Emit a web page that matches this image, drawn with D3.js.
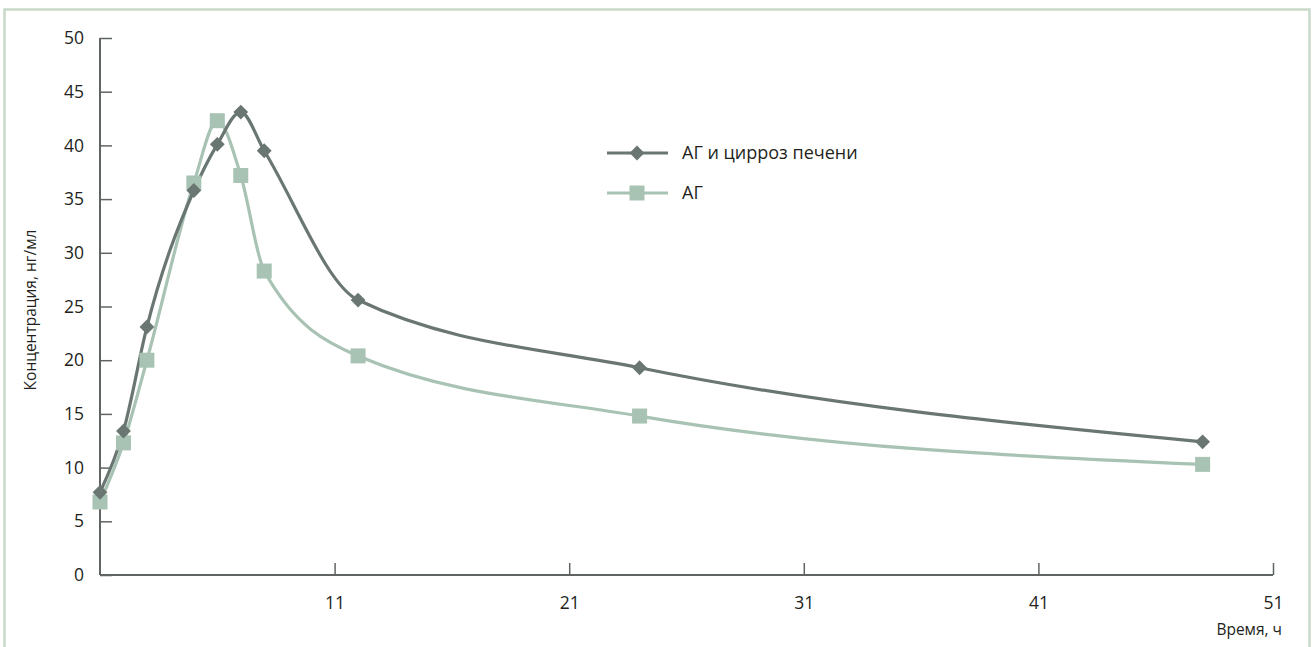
<!DOCTYPE html>
<html><head><meta charset="utf-8">
<script src="https://cdn.jsdelivr.net/npm/d3@7/dist/d3.min.js"></script>
<style>body{margin:0;background:#fff}svg{display:block}text{font-family:"Open Sans","Noto Sans",sans-serif;fill:#231f20}</style>
</head><body><svg id="c" width="1314" height="647"></svg>
<script>
const times = [1, 2, 3, 5, 6, 7, 8, 12, 24, 48];
const cirrhosis = [7.7, 13.4, 23.1, 35.8, 40.1, 43.1, 39.5, 25.6, 19.3, 12.4];
const ag = [6.8, 12.3, 20.0, 36.5, 42.3, 37.2, 28.3, 20.4, 14.8, 10.3];
const xTicks = [11, 21, 31, 41, 51];
const yTicks = [0, 5, 10, 15, 20, 25, 30, 35, 40, 45, 50];
const seriesNames = ["АГ и цирроз печени", "АГ"];
const yTitle = "Концентрация, нг/мл";
const xTitle = "Время, ч";

const svg = d3.select("#c");
svg.append("rect").attr("x",4.5).attr("y",9.5).attr("width",1305).attr("height",660)
  .attr("fill","none").attr("stroke","#c9d9c9").attr("stroke-width",2.5);

const x = d3.scaleLinear().domain([1,51]).range([100,1273]);
const y = d3.scaleLinear().domain([0,50]).range([575,38]);
const axisCol = "#5f6462";

const gx = svg.append("g").attr("transform","translate(0,575)")
  .call(d3.axisBottom(x).tickValues(xTicks).tickSize(-12).tickPadding(22).tickFormat(d3.format("d")));
const gy = svg.append("g").attr("transform","translate(100,0)")
  .call(d3.axisLeft(y).tickValues(yTicks).tickSize(-12).tickPadding(16));
[gx,gy].forEach(g=>{
  g.select(".domain").attr("stroke",axisCol).attr("stroke-width",2);
  g.selectAll(".tick line").attr("stroke",axisCol).attr("stroke-width",1.5);
  g.selectAll(".tick text").attr("font-size",17.5).attr("fill","#231f20").attr("font-family","'Open Sans',sans-serif");
});
gx.select(".domain").attr("d","M100,0H1273");
gy.select(".domain").attr("d","M0,575V38");

svg.append("text").attr("transform","translate(36,310) rotate(-90)").attr("text-anchor","middle")
  .attr("font-size",15.5).text(yTitle);
svg.append("text").attr("x",1282).attr("y",635).attr("text-anchor","end").attr("font-size",15.5).text(xTitle);

const dark = "#6a7671", light = "#a8c3b3";
const line = d3.line().x(d=>x(d[0])).y(d=>y(d[1])).curve(d3.curveMonotoneX);
const dAg = times.map((t,i)=>[t,ag[i]]);
const dCi = times.map((t,i)=>[t,cirrhosis[i]]);

svg.append("path").datum(dAg).attr("d",line).attr("fill","none").attr("stroke",light).attr("stroke-width",3.2);
svg.append("path").datum(dCi).attr("d",line).attr("fill","none").attr("stroke",dark).attr("stroke-width",3.2);

function sq(g, cx, cy){ g.append("rect").attr("x",cx-7.5).attr("y",cy-7.5).attr("width",15).attr("height",15).attr("fill",light); }
function dm(g, cx, cy){ g.append("path").attr("d",d3.symbol().type(d3.symbolSquare).size(110)()).attr("transform",`translate(${cx},${cy}) rotate(45)`).attr("fill",dark); }

const gm = svg.append("g");
dAg.forEach(d=>sq(gm, x(d[0]), y(d[1])));
dCi.forEach(d=>dm(gm, x(d[0]), y(d[1])));

// legend
const lg = svg.append("g");
lg.append("line").attr("x1",607).attr("x2",668).attr("y1",153).attr("y2",153).attr("stroke",dark).attr("stroke-width",3);
dm(lg,637,153);
lg.append("text").attr("x",682).attr("y",159).attr("font-size",18).text(seriesNames[0]);
lg.append("line").attr("x1",607).attr("x2",668).attr("y1",193).attr("y2",193).attr("stroke",light).attr("stroke-width",3);
sq(lg,637,193);
lg.append("text").attr("x",682).attr("y",199).attr("font-size",18).text(seriesNames[1]);
</script></body></html>
